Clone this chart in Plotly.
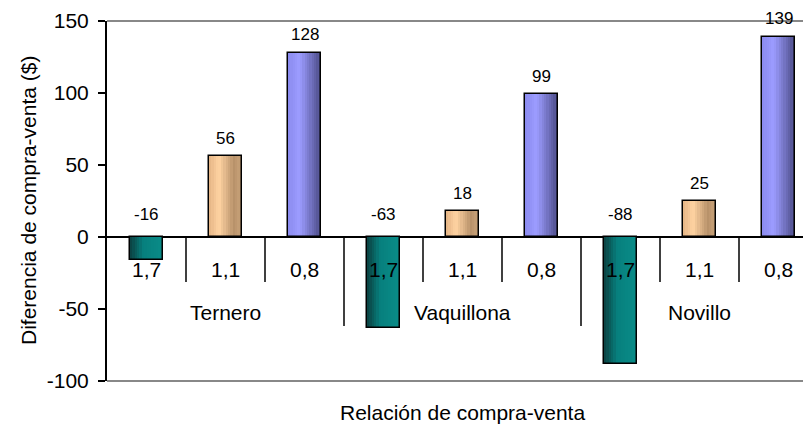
import plotly.graph_objects as go

# ---- data ----
groups = ["Ternero", "Vaquillona", "Novillo"]
ratios = ["1,7", "1,1", "0,8"]
values_17 = [-16, -63, -88]
values_11 = [56, 18, 25]
values_08 = [128, 99, 139]
y_ticks = [-100, -50, 0, 50, 100, 150]

FONT = "Liberation Sans, Arial, sans-serif"
W, H = 803, 427
L, T, B = 107, 21, 46
SLOT_PX = 79.0
plot_w = W - L
x_max = -0.5 + plot_w / SLOT_PX

series = [values_17, values_11, values_08]

def hex2rgb(h):
    h = h.lstrip("#")
    return tuple(int(h[i:i + 2], 16) for i in (0, 2, 4))

def grad(stops, t):
    for (t0, c0), (t1, c1) in zip(stops, stops[1:]):
        if t0 <= t <= t1:
            f = 0 if t1 == t0 else (t - t0) / (t1 - t0)
            a, b = hex2rgb(c0), hex2rgb(c1)
            return "rgb(%d,%d,%d)" % tuple(round(a[i] + (b[i] - a[i]) * f) for i in range(3))
    return "rgb(%d,%d,%d)" % hex2rgb(stops[-1][1])

gradients = [
    [(0, "#0b3f3f"), (0.4, "#07807e"), (1.0, "#0a8c88")],
    [(0, "#e4b485"), (0.3, "#ffd3a2"), (0.75, "#b8926a"), (1.0, "#cca57c")],
    [(0, "#8a8aee"), (0.35, "#9c9cff"), (1.0, "#4a4a86")],
]

fig = go.Figure()
bw = 0.42
N = 14
sw = bw / N
for s, vals in enumerate(series):
    xs = [3 * g + s for g in range(len(groups))]
    for k in range(N):
        off = -bw / 2 + k * sw
        w = min(sw * 1.6, bw / 2 - off)
        fig.add_trace(go.Bar(
            x=xs, y=vals, width=w, offset=off,
            marker=dict(color=grad(gradients[s], (k + 0.5) / N), line=dict(width=0)),
            hoverinfo="skip", showlegend=False))
    fig.add_trace(go.Bar(
        x=xs, y=vals, width=bw, offset=-bw / 2,
        marker=dict(color="rgba(0,0,0,0)", line=dict(color="black", width=1.5)),
        showlegend=False, name=ratios[s]))

annotations = []
# data labels
for s, vals in enumerate(series):
    for g, v in enumerate(vals):
        x = 3 * g + s
        annotations.append(dict(
            x=x, y=max(v, 0), xref="x", yref="y", text=str(v), showarrow=False,
            yanchor="middle", yshift=18 if v >= 0 else 23,
            font=dict(family=FONT, size=17, color="black")))
# category labels
for g, name in enumerate(groups):
    for s, r in enumerate(ratios):
        annotations.append(dict(
            x=3 * g + s, y=0, xref="x", yref="y", text=r, showarrow=False,
            yanchor="middle", yshift=-32, font=dict(family=FONT, size=21, color="black")))
    annotations.append(dict(
        x=3 * g + 1, y=0, xref="x", yref="y", text=name, showarrow=False,
        yanchor="middle", yshift=-75, font=dict(family=FONT, size=21, color="black")))
# axis titles
annotations.append(dict(
    x=4, y=-(413 - (H - B)) / (H - T - B), xref="x", yref="paper",
    text="Relación de compra-venta", showarrow=False, yanchor="middle",
    font=dict(family=FONT, size=21, color="black")))
annotations.append(dict(
    x=(28 - L) / plot_w, y=0.5, xref="paper", yref="paper",
    text="Diferencia de compra-venta ($)", showarrow=False, textangle=-90,
    xanchor="center", yanchor="middle",
    font=dict(family=FONT, size=21, color="black")))

shapes = []
n_slots = len(groups) * len(ratios)
for i in range(n_slots - 1):
    long_tick = (i + 1) % len(ratios) == 0
    shapes.append(dict(
        type="line", xref="x", yref="y", ysizemode="pixel", yanchor=0,
        x0=i + 0.5, x1=i + 0.5, y0=0, y1=-89 if long_tick else -45,
        line=dict(color="black", width=1.5)))
# plot area top/bottom border
for yy in (0, 1):
    shapes.append(dict(type="line", xref="paper", yref="paper",
                       x0=0, x1=1, y0=yy, y1=yy,
                       line=dict(color="#888888", width=2)))

fig.update_layout(
    width=W, height=H,
    margin=dict(l=L, r=0, t=T, b=B),
    paper_bgcolor="white", plot_bgcolor="white",
    barmode="overlay", bargap=0,
    showlegend=False,
    annotations=annotations, shapes=shapes,
    xaxis=dict(range=[-0.5, x_max], visible=False, fixedrange=True),
    yaxis=dict(range=[-100, 150], tickvals=y_ticks, ticktext=[str(v) for v in y_ticks],
               showgrid=False, zeroline=True, zerolinecolor="black", zerolinewidth=1.5,
               showline=True, linecolor="black", linewidth=2,
               ticks="outside", ticklen=7, tickcolor="black", tickwidth=1.5,
               tickfont=dict(family=FONT, size=21, color="black"),
               ticklabelstandoff=5, fixedrange=True),
)

fig.write_html("out.html", config={"displayModeBar": False},
               post_script="document.body.style.margin='0px';document.body.style.overflow='hidden';")
